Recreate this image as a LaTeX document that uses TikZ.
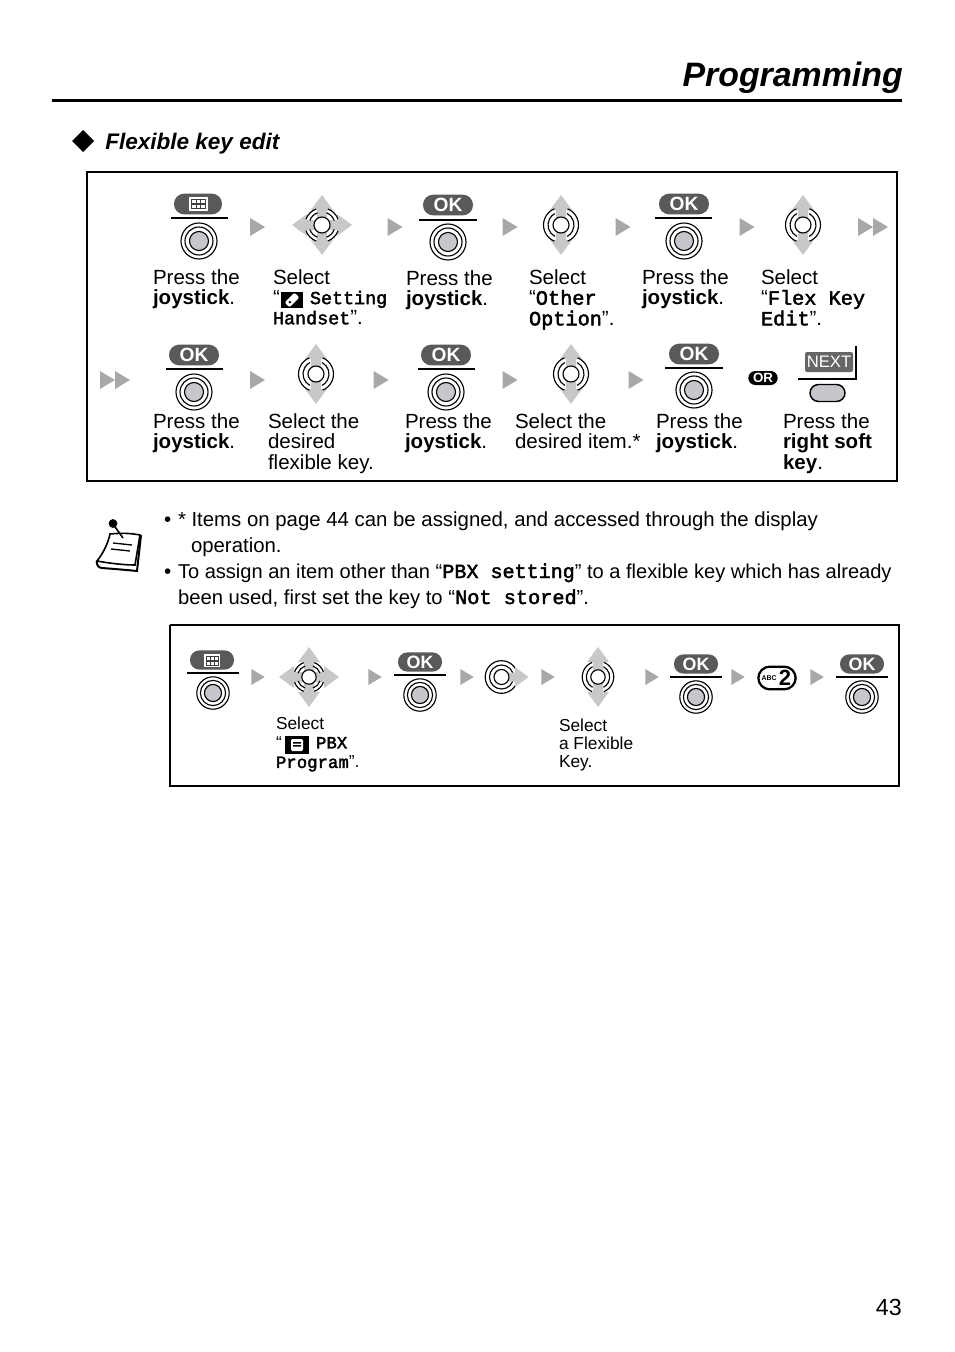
\documentclass[tikz,border=0pt]{standalone}
\usepackage{fontspec}
\setmainfont{Liberation Sans}
\newfontfamily\monof{Liberation Mono}[FakeBold=2.2]
\newcommand{\mn}[1]{{\monof #1}}
\newcommand{\mnn}[1]{{\fontsize{13.8}{15}\selectfont\monof #1}}
\newcommand{\mnl}[1]{{\fontsize{15.2}{15}\selectfont\monof #1}}
\definecolor{pillc}{HTML}{595959}
\definecolor{trig}{HTML}{A8A8A8}
\definecolor{crossg}{HTML}{C8C8C8}
\definecolor{stickg}{HTML}{C6C6CC}
\tikzset{
  lbl/.style={anchor=base west,inner sep=0pt,outer sep=0pt,font=\fontsize{15.4}{15}\selectfont},
  lblsm/.style={anchor=base west,inner sep=0pt,outer sep=0pt,font=\fontsize{13}{14.6}\selectfont},
  pill/.style={fill=pillc,draw=none,text=white,inner sep=0pt,rounded corners=7.6pt,minimum width=37.5pt,minimum height=15.5pt,font=\fontsize{14.4}{14}\selectfont\bfseries},
  pillsm/.style={pill,rounded corners=7pt,minimum width=33pt,minimum height=14.4pt,font=\fontsize{13.4}{13}\selectfont\bfseries},
  rulel/.style={draw=black,line width=1.3pt},
  framel/.style={draw=black,line width=1.6pt},
  ring/.style={draw=black,line width=.85pt},
  joy/.pic={
    \draw[ring,fill=white] (0,0) circle (18);
    \draw[ring] (0,0) circle (14);
    \draw[ring,fill=stickg] (0,0) circle (9.5);
  },
  tri/.pic={\fill[trig] (-7.5,-9) -- (7.5,0) -- (-7.5,9) -- cycle;},
  dtri/.pic={\fill[trig] (-15,-9) -- (0,0) -- (-15,9) -- cycle (0,-9) -- (15,0) -- (0,9) -- cycle;},
  arrowup/.pic={\fill[crossg] (-5,-6) -- (-5,-15) -- (-11,-15) -- (0,-30) -- (11,-15) -- (5,-15) -- (5,-6) -- cycle;},
  cross4/.pic={
    \foreach \a in {0,90,180,270}{\pic[rotate=\a] {arrowup};}
    \foreach \a in {0,90,180,270}{
      \draw[ring] (\a+20:13) arc[start angle=\a+20,end angle=\a+70,radius=13];
      \draw[ring] (\a+20:17) arc[start angle=\a+20,end angle=\a+70,radius=17];
    }
    \draw[ring,fill=white] (0,0) circle (8);
  },
  cross2/.pic={
    \pic {arrowup}; \pic[rotate=180] {arrowup};
    \draw[ring] (-62:13) arc[start angle=-62,end angle=62,radius=13];
    \draw[ring] (-68:17.5) arc[start angle=-68,end angle=68,radius=17.5];
    \draw[ring] (118:13) arc[start angle=118,end angle=242,radius=13];
    \draw[ring] (112:17.5) arc[start angle=112,end angle=248,radius=17.5];
    \draw[ring,fill=white] (0,0) circle (8);
  },
  crossr/.pic={
    \draw[ring] (0,0) circle (16.3);
    \draw[ring] (0,0) circle (12);
    \pic[rotate=-90,scale=.9] {arrowup};
    \draw[ring,fill=white] (0,0) circle (7.5);
  },
}
\begin{document}
\begin{tikzpicture}[x=0.75pt,y=-0.75pt]
\useasboundingbox (0,0) rectangle (954,1352);
\fill[white] (0,0) rectangle (954,1352);

% header
\node[anchor=base east,inner sep=0pt,font=\fontsize{25.4}{26}\selectfont\bfseries\itshape] (title) at (903,87) {Programming};
\draw[line width=1.9pt] (52,100.3) -- (902,100.3);
\fill[black] (72,141) -- (83,130) -- (94,141) -- (83,152) -- cycle;
\node[anchor=base west,inner sep=0pt,font=\fontsize{16.9}{17}\selectfont\bfseries\itshape] (subtitle) at (105,150) {Flexible key edit};

% first frame
\draw[framel] (87,172) rectangle (897,481);

% row 1
\node[pill,minimum width=36pt,minimum height=15.5pt] (m1) at (198,204) {};
\fill[white] (189,197) rectangle (208,211);
\fill[pillc!70!black] (191,199) rectangle (206,209);
\foreach \i in {194,198.5,203}\foreach \j in {201.7,206.3}{\fill[white] (\i-1.7,\j-1.7) rectangle (\i+1.7,\j+1.7);}
\draw[rulel] (171,218) -- (228,218);
\pic at (199,241) {joy};
\pic at (257.5,227) {tri};
\pic at (322,225) {cross4};
\pic at (395,227) {tri};
\node[pill] (ok1) at (448,205) {OK};
\draw[rulel] (419,220) -- (477,220);
\pic at (448,242) {joy};
\pic at (510,227) {tri};
\pic at (561,225) {cross2};
\pic at (623,227) {tri};
\node[pill] (ok2) at (684,204) {OK};
\draw[rulel] (655,218) -- (712,218);
\pic at (684,241) {joy};
\pic at (747,227) {tri};
\pic at (803,225) {cross2};
\pic at (873,227) {dtri};

\node[lbl] (t1) at (153,284) {\begin{tabular}[t]{@{}l@{}}Press the\\\textbf{joystick}.\end{tabular}};
\node[lbl] (t2) at (273,284) {\begin{tabular}[t]{@{}l@{}}Select\\“\hspace*{22.6pt}\mnn{Setting}\\\mnn{Handset}”.\end{tabular}};
\fill[black] (281,292) rectangle (303,308);
\fill[white,rounded corners=1.5pt,rotate around={45:(292,300)}] (285,296.5) rectangle (299,303.5);
\fill[black,rotate around={45:(292,300)}] (288,299) rectangle (290,301);
\node[lbl] (t3) at (406,285) {\begin{tabular}[t]{@{}l@{}}Press the\\\textbf{joystick}.\end{tabular}};
\node[lbl] (t4) at (529,284) {\begin{tabular}[t]{@{}l@{}}Select\\“\mnl{Other}\\\mnl{Option}”.\end{tabular}};
\node[lbl] (t5) at (642,284) {\begin{tabular}[t]{@{}l@{}}Press the\\\textbf{joystick}.\end{tabular}};
\node[lbl] (t6) at (761,284) {\begin{tabular}[t]{@{}l@{}}Select\\“\mnl{Flex Key}\\\mnl{Edit}”.\end{tabular}};

% row 2
\pic at (115,380) {dtri};
\node[pill] (ok3) at (194,355) {OK};
\draw[rulel] (166,369) -- (223,369);
\pic at (194,392) {joy};
\pic at (257.5,380) {tri};
\pic at (316,374) {cross2};
\pic at (381,380) {tri};
\node[pill] (ok4) at (446,355) {OK};
\draw[rulel] (418,369) -- (475,369);
\pic at (446,392) {joy};
\pic at (510,380) {tri};
\pic at (571,374) {cross2};
\pic at (636,380) {tri};
\node[pill] (ok5) at (694,354) {OK};
\draw[rulel] (665,368) -- (723,368);
\pic at (694,390) {joy};
\node[fill=black,text=white,rounded corners=5.2pt,inner sep=0pt,minimum width=22pt,minimum height=10.5pt,font=\fontsize{10}{10}\selectfont\bfseries] (orp) at (763,378) {OR};
\node[fill=black!60,text=white,rounded corners=1.5pt,inner sep=0pt,minimum width=36pt,minimum height=15pt,font=\fontsize{12.5}{12}\selectfont] (nx) at (829,362) {NEXT};
\draw[rulel,line cap=rect] (799,379) -- (856,379) -- (856,347);
\draw[draw=black,line width=1.1pt,fill=stickg,rounded corners=6.4pt] (810,384.5) rectangle (845,401.5);

\node[lbl] (t7) at (153,428) {\begin{tabular}[t]{@{}l@{}}Press the\\\textbf{joystick}.\end{tabular}};
\node[lbl] (t8) at (268,428) {\begin{tabular}[t]{@{}l@{}}Select the\\desired\\flexible key.\end{tabular}};
\node[lbl] (t9) at (405,428) {\begin{tabular}[t]{@{}l@{}}Press the\\\textbf{joystick}.\end{tabular}};
\node[lbl] (t10) at (515,428) {\begin{tabular}[t]{@{}l@{}}Select the\\desired item.*\end{tabular}};
\node[lbl] (t11) at (656,428) {\begin{tabular}[t]{@{}l@{}}Press the\\\textbf{joystick}.\end{tabular}};
\node[lbl] (t12) at (783,428) {\begin{tabular}[t]{@{}l@{}}Press the\\\textbf{right soft}\\\textbf{key}.\end{tabular}};

% note icon
\fill[white,draw=black,line width=1.2pt] (110,534) .. controls (120,533) and (130,533) .. (140,535) -- (135,565) .. controls (123,565) and (108,563) .. (97,561) .. controls (104,552) and (108,543) .. (110,534) -- cycle;
\draw[line width=1.5pt] (97,561) .. controls (96,565) and (99,568) .. (102,568) .. controls (115,569) and (127,570) .. (137,571) -- (141,535);
\draw[line width=1pt] (113,543) -- (132,545);
\draw[line width=1pt] (111,549) -- (130,551);
\draw[line width=1.2pt] (113,524) -- (123,538);
\draw[line width=.8pt,fill=black] (113,523.5) circle (3.8);

% note text
\node[lbl] (n1) at (164,526) {•};
\node[lbl,font=\fontsize{15.28}{15}\selectfont] (n1b) at (178,526) {* Items on page 44 can be assigned, and accessed through the display};
\node[lbl,font=\fontsize{15.28}{15}\selectfont] (n2) at (191,552) {operation.};
\node[lbl] (n3) at (164,578) {•};
\node[lbl,font=\fontsize{15.05}{15}\selectfont] (n3b) at (178,578) {To assign an item other than “\mn{PBX setting}” to a flexible key which has already};
\node[lbl,font=\fontsize{15.2}{15}\selectfont] (n4) at (178,604) {been used, first set the key to “\mn{Not stored}”.};

% second frame
\draw[framel] (170,625) -- (899,625);
\draw[framel] (170,625) -- (170,786) -- (899,786);
\draw[line width=2.2pt] (899,624) -- (899,787);

\node[pillsm] (m2) at (212,660) {};
\fill[white] (204,654) rectangle (220,667);
\fill[pillc!70!black] (205.5,655.5) rectangle (218.5,665.5);
\foreach \i in {208,212,216}\foreach \j in {658,663}{\fill[white] (\i-1.5,\j-1.5) rectangle (\i+1.5,\j+1.5);}
\draw[rulel] (187,673) -- (239,673);
\pic[scale=.9] at (213,693) {joy};
\pic[scale=.9] at (258,677) {tri};
\pic[scale=.9] at (309,677) {cross4};
\pic[scale=.9] at (375,677) {tri};
\node[pillsm] (ok6) at (420,662) {OK};
\draw[rulel] (394,675) -- (446,675);
\pic[scale=.9] at (420,695) {joy};
\pic[scale=.9] at (467,677) {tri};
\pic at (501.5,677) {crossr};
\pic[scale=.9] at (548,677) {tri};
\pic[scale=.9] at (598,677) {cross2};
\pic[scale=.9] at (652,677) {tri};
\node[pillsm] (ok7) at (696,664) {OK};
\draw[rulel,line width=1pt] (670,677) -- (722,677);
\pic[scale=.9] at (696,697) {joy};
\pic[scale=.9] at (738,677) {tri};
\node[draw=black,line width=1.7pt,fill=white,rounded corners=8.6pt,inner sep=0pt,minimum width=28pt,minimum height=17pt] (abc) at (777,678) {};
\node[inner sep=0pt,font=\fontsize{5.2}{6}\selectfont\bfseries] (abct) at (769,678) {ABC};
\node[inner sep=0pt,font=\fontsize{16.5}{17}\selectfont\bfseries] (abcn) at (785,678) {2};
\pic[scale=.9] at (817,677) {tri};
\node[pillsm] (ok8) at (862,664) {OK};
\draw[rulel] (836,677) -- (888,677);
\pic[scale=.9] at (862,697) {joy};

\node[lblsm] (s1) at (276,729) {\begin{tabular}[t]{@{}l@{}}Select\\“\hspace*{25.7pt}\mn{PBX}\\\mn{Program}”.\end{tabular}};
\fill[black] (285,736) rectangle (309,754);
\fill[white,rounded corners=1pt] (291,739) rectangle (303,751);
\fill[black] (293,742) rectangle (301,743.5) (293,745) rectangle (301,746.5);
\node[lblsm,font=\fontsize{13}{13.5}\selectfont] (s2) at (559,731) {\begin{tabular}[t]{@{}l@{}}Select\\a Flexible\\Key.\end{tabular}};

% page number
\node[anchor=base east,inner sep=0pt,font=\fontsize{17.5}{18}\selectfont] (page) at (902,1315) {43};
\end{tikzpicture}
\end{document}
